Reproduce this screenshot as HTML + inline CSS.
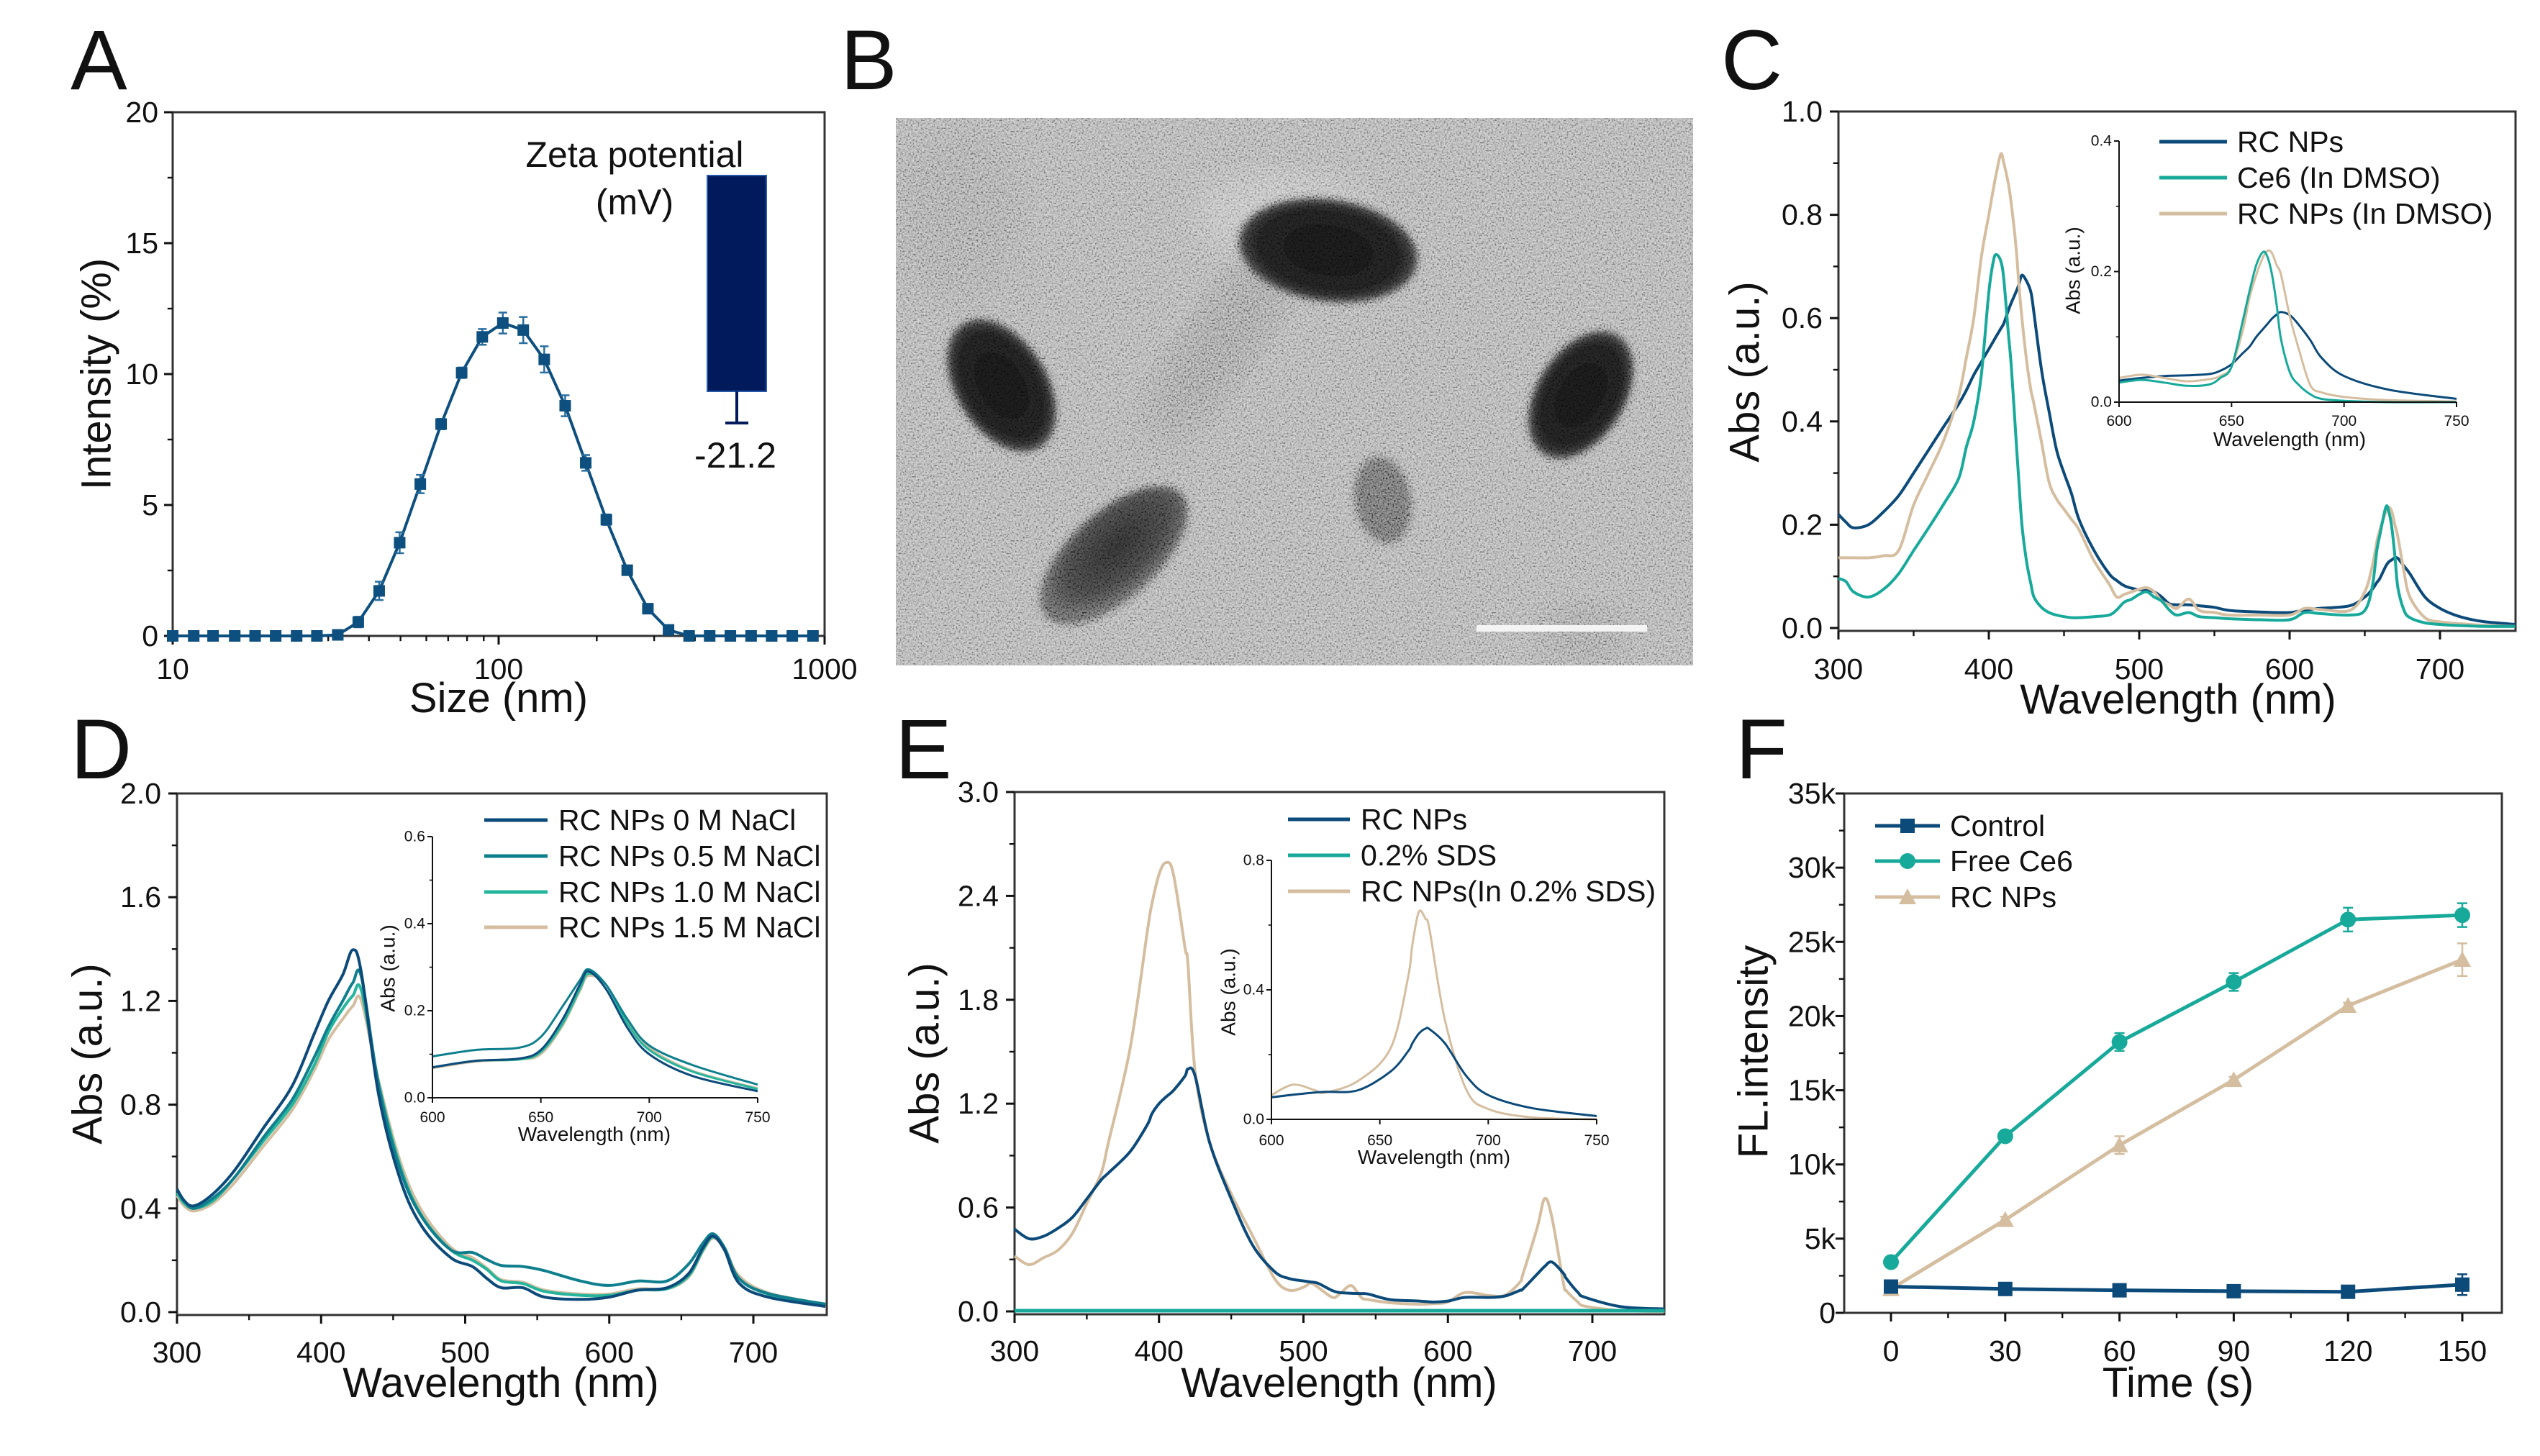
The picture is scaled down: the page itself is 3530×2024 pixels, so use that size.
<!DOCTYPE html>
<html><head><meta charset="utf-8">
<style>
html,body{margin:0;padding:0;background:#fff;}
svg{display:block;}
text{font-family:"Liberation Sans",Arial,sans-serif;fill:#111;}
</style></head>
<body>
<svg id="fig" width="3530" height="2024" viewBox="0 0 3530 2024" xmlns="http://www.w3.org/2000/svg">
<defs>
<filter id="noise" x="0" y="0" width="100%" height="100%">
<feTurbulence type="fractalNoise" baseFrequency="0.45" numOctaves="2" seed="4" result="t"/>
<feColorMatrix type="matrix" values="1.3 1.3 1.3 0 -1.45  1.3 1.3 1.3 0 -1.45  1.3 1.3 1.3 0 -1.45  0 0 0 0 1"/>
</filter>
<filter id="blur6"><feGaussianBlur stdDeviation="5"/></filter>
<filter id="blur25"><feGaussianBlur stdDeviation="25"/></filter>
<radialGradient id="pg" cx="50%" cy="50%" r="50%"><stop offset="0" stop-color="#121212"/><stop offset="0.8" stop-color="#1e1e1e"/><stop offset="1" stop-color="#404040"/></radialGradient>
<radialGradient id="pg2" cx="55%" cy="45%" r="50%"><stop offset="0" stop-color="#2a2a2a"/><stop offset="0.7" stop-color="#404040"/><stop offset="1" stop-color="#606060"/></radialGradient>
</defs>
<g id="root"></g>
</svg>
<script>
// ---------- DATA ----------
// Panel A (DLS)
const aSizes = [10,11.6,13.3,15.5,17.9,20.7,24.0,27.7,32.1,37.1,43.0,49.7,57.5,66.6,77.0,89.1,103,119,138,160,185,214,248,287,332,384,444,514,595,688,796,921];
const aIntensity = [0,0,0,0,0,0,0,0,0.04,0.53,1.72,3.56,5.8,8.09,10.05,11.42,11.95,11.68,10.56,8.79,6.61,4.44,2.51,1.04,0.23,0,0,0,0,0,0,0];
const aErr = [0,0,0,0,0,0,0,0,0.05,0.2,0.35,0.4,0.35,0.2,0.2,0.3,0.4,0.5,0.5,0.4,0.3,0.2,0.15,0.15,0.1,0,0,0,0,0,0,0];
const zetaValue = [-21.2];
const aYTicks = [0,5,10,15,20];
const aXTicks = [10,100,1000];

// Panel C main
const cWl = [300,305,310,320,330,340,350,360,370,380,385,390,395,400,403,405,408,410,413,415,418,420,422,425,428,430,435,440,445,450,455,460,470,480,485,490,495,500,505,510,515,520,525,533,540,550,560,580,600,610,620,640,650,655,658,660,664,666,668,670,672,676,680,690,700,710,720,730,750];
const cRC = [0.22,0.205,0.194,0.2,0.225,0.256,0.3,0.345,0.39,0.434,0.46,0.49,0.515,0.54,0.555,0.565,0.58,0.59,0.615,0.63,0.65,0.665,0.683,0.672,0.65,0.61,0.5,0.42,0.345,0.3,0.26,0.21,0.15,0.105,0.092,0.082,0.077,0.074,0.073,0.07,0.06,0.047,0.045,0.045,0.043,0.04,0.034,0.031,0.03,0.035,0.038,0.043,0.06,0.075,0.088,0.096,0.12,0.128,0.132,0.136,0.135,0.12,0.105,0.06,0.038,0.025,0.017,0.012,0.007];
const cCe6 = [0.096,0.09,0.07,0.06,0.075,0.105,0.15,0.194,0.24,0.29,0.35,0.4,0.49,0.65,0.71,0.723,0.71,0.674,0.57,0.505,0.37,0.283,0.2,0.13,0.085,0.06,0.04,0.03,0.025,0.022,0.02,0.02,0.022,0.025,0.035,0.05,0.056,0.065,0.07,0.06,0.052,0.035,0.025,0.03,0.022,0.02,0.018,0.016,0.016,0.03,0.028,0.025,0.034,0.08,0.15,0.18,0.234,0.225,0.194,0.14,0.078,0.035,0.02,0.01,0.007,0.005,0.004,0.003,0.003];
const cDMSO = [0.136,0.136,0.136,0.136,0.14,0.15,0.238,0.3,0.363,0.45,0.523,0.6,0.718,0.8,0.85,0.88,0.918,0.9,0.86,0.82,0.74,0.665,0.6,0.52,0.46,0.434,0.36,0.283,0.25,0.23,0.21,0.19,0.13,0.085,0.06,0.065,0.07,0.075,0.078,0.07,0.052,0.045,0.038,0.056,0.034,0.03,0.025,0.025,0.025,0.038,0.036,0.034,0.07,0.12,0.167,0.19,0.225,0.234,0.225,0.2,0.176,0.11,0.06,0.02,0.012,0.009,0.007,0.005,0.003];
const cInWl = [600,610,620,630,640,645,650,655,658,661,664,666,668,670,672,676,680,685,690,700,720,750];
const cInRC = [0.033,0.037,0.04,0.041,0.043,0.048,0.058,0.075,0.085,0.1,0.112,0.12,0.128,0.134,0.138,0.133,0.118,0.095,0.068,0.04,0.019,0.005];
const cInCe6 = [0.03,0.034,0.03,0.025,0.027,0.037,0.054,0.125,0.17,0.21,0.23,0.222,0.195,0.15,0.096,0.045,0.026,0.012,0.005,0.002,0,0];
const cInDMSO = [0.037,0.042,0.037,0.032,0.035,0.04,0.054,0.11,0.16,0.195,0.222,0.232,0.228,0.21,0.195,0.13,0.08,0.026,0.015,0.008,0.003,0.001];

// Panel D
const dWl = [300,305,312,325,340,360,380,395,405,415,422,428,440,455,470,490,505,515,525,540,555,580,600,620,640,655,665,672,680,690,710,750];
const d0M = [0.474,0.429,0.41,0.456,0.547,0.71,0.873,1.07,1.2,1.3,1.397,1.307,0.836,0.51,0.33,0.21,0.176,0.13,0.094,0.094,0.058,0.049,0.058,0.085,0.094,0.148,0.248,0.293,0.239,0.112,0.058,0.022];
const d05M = [0.474,0.43,0.4,0.44,0.52,0.674,0.82,0.98,1.1,1.2,1.27,1.292,0.872,0.547,0.366,0.24,0.23,0.203,0.18,0.176,0.16,0.12,0.103,0.12,0.12,0.185,0.266,0.302,0.248,0.13,0.072,0.031];
const d10M = [0.46,0.42,0.4,0.43,0.52,0.66,0.8,0.95,1.08,1.17,1.22,1.24,0.88,0.56,0.37,0.24,0.2,0.165,0.12,0.11,0.08,0.065,0.065,0.085,0.09,0.14,0.24,0.29,0.245,0.13,0.07,0.025];
const d15M = [0.45,0.41,0.39,0.42,0.5,0.64,0.78,0.93,1.05,1.13,1.18,1.2,0.89,0.58,0.39,0.25,0.21,0.17,0.125,0.115,0.085,0.07,0.07,0.09,0.09,0.135,0.235,0.285,0.245,0.14,0.075,0.03];
const dInWl = [600,620,640,650,660,668,672,680,690,700,720,750];
const dIn0M = [0.07,0.085,0.09,0.11,0.18,0.26,0.29,0.25,0.16,0.1,0.05,0.015];
const dIn05M = [0.095,0.11,0.115,0.14,0.21,0.27,0.295,0.26,0.18,0.12,0.075,0.03];
const dIn10M = [0.07,0.085,0.088,0.105,0.17,0.25,0.285,0.26,0.17,0.11,0.06,0.02];
const dIn15M = [0.068,0.083,0.088,0.1,0.165,0.245,0.28,0.26,0.175,0.115,0.062,0.022];

// Panel E
const eWl = [300,310,320,330,340,350,360,365,380,392,395,400,405,410,418,420,425,435,450,465,480,490,500,505,510,520,525,533,540,545,560,580,590,600,612,630,640,650,652,662,667,672,680,682,690,695,720,750];
const eRC = [0.475,0.42,0.434,0.48,0.543,0.65,0.76,0.8,0.923,1.08,1.14,1.2,1.24,1.276,1.36,1.4,1.36,0.977,0.65,0.38,0.23,0.19,0.176,0.17,0.163,0.12,0.109,0.105,0.103,0.1,0.068,0.06,0.054,0.06,0.081,0.081,0.09,0.122,0.13,0.217,0.26,0.285,0.22,0.19,0.11,0.081,0.027,0.014];
const eSDS = [0.004,0.004,0.004,0.004,0.004,0.004,0.004,0.004,0.004,0.004,0.004,0.004,0.004,0.004,0.004,0.004,0.004,0.004,0.004,0.004,0.004,0.004,0.004,0.004,0.004,0.004,0.004,0.004,0.004,0.004,0.004,0.004,0.004,0.004,0.004,0.004,0.004,0.004,0.004,0.004,0.004,0.004,0.004,0.004,0.004,0.004,0.004,0.004];
const eInSDS = [0.32,0.27,0.31,0.353,0.45,0.624,0.8,0.977,1.52,2.2,2.35,2.525,2.593,2.525,2.1,2.01,1.385,0.977,0.679,0.434,0.19,0.122,0.14,0.163,0.14,0.081,0.1,0.149,0.08,0.068,0.05,0.041,0.045,0.054,0.109,0.09,0.095,0.17,0.217,0.489,0.652,0.543,0.163,0.12,0.054,0.03,0.005,0];
const eInWl = [600,610,620,625,640,655,663,665,668,671,673,680,690,700,720,750];
const eInRC = [0.068,0.076,0.083,0.085,0.09,0.148,0.21,0.235,0.265,0.28,0.278,0.235,0.133,0.075,0.035,0.01];
const eInTan = [0.075,0.107,0.09,0.083,0.119,0.22,0.438,0.54,0.641,0.62,0.583,0.307,0.09,0.032,0.006,0];

// Panel F
const fTime = [0,30,60,90,120,150];
const fControl = [1.77,1.61,1.52,1.46,1.42,1.9];
const fControlErr = [0.15,0.1,0.1,0.1,0.1,0.7];
const fCe6 = [3.42,11.9,18.25,22.3,26.5,26.8];
const fCe6Err = [0.2,0.25,0.6,0.6,0.8,0.8];
const fRC = [1.61,6.27,11.3,15.7,20.7,23.8];
const fRCErr = [0.1,0.2,0.6,0.2,0.2,1.1];

// ---------- HELPERS ----------
const NS = 'http://www.w3.org/2000/svg';
const root = document.getElementById('root');
const TFS = 41, TITLE = 58, LFS = 41, IFS = 21, ITFS = 28;
function mk(tag, attrs, parent){
  const e = document.createElementNS(NS, tag);
  for (const k in attrs) e.setAttribute(k, attrs[k]);
  (parent || root).appendChild(e);
  return e;
}
function txt(str, attrs, parent){
  const t = mk('text', attrs, parent);
  t.textContent = str;
  return t;
}
function lin(d0,d1,r0,r1){ return v => r0 + (v-d0)*(r1-r0)/(d1-d0); }
function smoothPath(pts){
  let d = 'M' + pts[0][0].toFixed(1) + ',' + pts[0][1].toFixed(1);
  for (let i=0;i<pts.length-1;i++){
    const p0 = pts[i-1]||pts[i], p1=pts[i], p2=pts[i+1], p3=pts[i+2]||pts[i+1];
    const c1x = p1[0]+(p2[0]-p0[0])/6, c1y = p1[1]+(p2[1]-p0[1])/6;
    const c2x = p2[0]-(p3[0]-p1[0])/6, c2y = p2[1]-(p3[1]-p1[1])/6;
    d += 'C'+c1x.toFixed(1)+','+c1y.toFixed(1)+' '+c2x.toFixed(1)+','+c2y.toFixed(1)+' '+p2[0].toFixed(1)+','+p2[1].toFixed(1);
  }
  return d;
}
function drawSeries(g, xs, ys, sx, sy, color, w, name){
  const pts = xs.map((x,i)=>[sx(x), sy(ys[i])]);
  const p = mk('path', {d: smoothPath(pts), fill:'none', stroke:color, 'stroke-width':w, 'stroke-linejoin':'round'}, g);
  
  
  return p;
}
function axes(o){
  const g = mk('g', {});
  
  
  const sx = o.sx, sy = o.sy;
  const sw = o.sw || 3;
  if (o.box){
    const r = mk('rect', {x:o.L, y:o.T, width:o.R-o.L, height:o.B-o.T, fill:'none', stroke:'#333', 'stroke-width':sw}, g);
    
    
  } else {
    const l1 = mk('line', {x1:o.L, y1:o.T, x2:o.L, y2:o.B, stroke:'#111', 'stroke-width':sw}, g);
    
    
    const l2 = mk('line', {x1:o.L, y1:o.B, x2:o.R, y2:o.B, stroke:'#111', 'stroke-width':sw}, g);
    
    
  }
  const tl = o.tl || 12;
  o.yMinor.forEach(v=>{ mk('line',{x1:o.L, x2:o.L-tl*0.6, y1:sy(v), y2:sy(v), stroke:'#111','stroke-width':sw*0.8}, g); });
  o.xMinor.forEach(v=>{ mk('line',{y1:o.B, y2:o.B+tl*0.6, x1:sx(v), x2:sx(v), stroke:'#111','stroke-width':sw*0.8}, g); });
  o.yTicks.forEach((v,i)=>{
    mk('line',{x1:o.L, x2:o.L-tl, y1:sy(v), y2:sy(v), stroke:'#111','stroke-width':sw}, g);
    const t = txt(o.yLabels[i], {x:o.L-o.yGap, y:sy(v), 'text-anchor':'end', 'dominant-baseline':'central', 'font-size':o.fs}, g);
    
    
  });
  o.xTicks.forEach((v,i)=>{
    mk('line',{y1:o.B, y2:o.B+tl, x1:sx(v), x2:sx(v), stroke:'#111','stroke-width':sw}, g);
    const t = txt(o.xLabels[i], {x:sx(v), y:o.xBase, 'text-anchor':'middle', 'font-size':o.fs}, g);
    
    
  });
  const xt = txt(o.xTitle, {x:o.xTitleX, y:o.xTitleY, 'text-anchor':'middle', 'font-size':o.tfs}, g);
  
  
  const yt = txt(o.yTitle, {x:0, y:0, 'text-anchor':'middle', 'dominant-baseline':'central', 'font-size':o.tfs, transform:'translate('+o.yTitleX+','+o.yTitleY+') rotate(-90)'}, g);
  
  
  return g;
}
function legend(g, items, x1, x2, tx, ys, fs, w){
  items.forEach((it,i)=>{
    const l = mk('line',{x1:x1,x2:x2,y1:ys[i],y2:ys[i],stroke:it.c,'stroke-width':w}, g);
    
    
    if (it.m) drawMarker(g, it.m, (x1+x2)/2, ys[i], it.c, 10);
    const t = txt(it.t, {x:tx, y:ys[i], 'dominant-baseline':'central', 'font-size':fs}, g);
    
    
  });
}
function drawMarker(g, m, x, y, c, s){
  let e;
  if (m==='sq') e = mk('rect',{x:x-s,y:y-s,width:2*s,height:2*s,fill:c}, g);
  else if (m==='ci') e = mk('circle',{cx:x,cy:y,r:s*1.1,fill:c}, g);
  else e = mk('polygon',{points:(x)+','+(y-s*1.2)+' '+(x-s*1.2)+','+(y+s)+' '+(x+s*1.2)+','+(y+s), fill:c}, g);
  
  
  return e;
}
function panelLabel(s, x, y){
  const t = txt(s, {x:x, y:y, 'font-size':118}, root);
  
  
}
const NAVY = '#0c4a7a', TEAL = '#17a99a', TAN = '#d5bea0', MIDT = '#0f7f8e';

// ---------- PANEL A ----------
(function(){
  const L=240,R=1146,T=156,B=884;
  const sx = v => L + (Math.log10(v)-1)*(R-L)/2;
  const sy = lin(0,20,B,T);
  const xMinor=[]; [10,100].forEach(d=>{for(let k=2;k<10;k++) xMinor.push(d*k);});
  axes({name:'panel-a-axes', L,R,T,B,sx,sy,box:true, yTicks:aYTicks, yLabels:aYTicks.map(String), yMinor:[2.5,7.5,12.5,17.5],
    xTicks:aXTicks, xLabels:aXTicks.map(String), xMinor, fs:TFS, tfs:TITLE, yGap:20, xBase:944,
    xTitle:'Size (nm)', xTitleX:693, xTitleY:990, yTitle:'Intensity (%)', yTitleX:134, yTitleY:520});
  const g = mk('g',{});
  
  
  const pts = aSizes.map((s,i)=>[sx(s), sy(aIntensity[i])]);
  const line = mk('polyline',{points:pts.map(p=>p.join(',')).join(' '), fill:'none', stroke:'#0d4f7e','stroke-width':4}, g);
  
  
  aSizes.forEach((s,i)=>{
    if (aErr[i]>0){
      const x=sx(s), y1=sy(aIntensity[i]+aErr[i]), y2=sy(aIntensity[i]-aErr[i]);
      const e = mk('path',{d:'M'+x+','+y1+'V'+y2+'M'+(x-6)+','+y1+'H'+(x+6)+'M'+(x-6)+','+y2+'H'+(x+6), stroke:'#2a6fa0','stroke-width':2.5, fill:'none'}, g);
      
      
    }
    drawMarker(g,'sq',sx(s),sy(aIntensity[i]),'#0d4f7e',8);
  });
  const zsy = lin(0,-21.2,244,544);
  const bar = mk('rect',{x:983, y:zsy(0), width:82, height:zsy(zetaValue[0])-zsy(0), fill:'#001a5c', stroke:'#2858a8','stroke-width':2}, root);
  
  
  const ye = zsy(zetaValue[0]) + 44;
  const eb = mk('path',{d:'M1024,'+zsy(zetaValue[0])+'V'+ye+'M1008,'+ye+'H1040', stroke:'#001a5c','stroke-width':4, fill:'none'}, root);
  
  
  const t1 = txt('Zeta potential',{x:882,y:232,'text-anchor':'middle','font-size':50}, root);
  
  
  const t2 = txt('(mV)',{x:882,y:298,'text-anchor':'middle','font-size':50}, root);
  
  
  const t3 = txt(String(zetaValue[0]),{x:1022,y:650,'text-anchor':'middle','font-size':50}, root);
  
  
})();

// ---------- PANEL B (TEM) ----------
(function(){
  const g = mk('g',{});
  
  
  const cp = mk('clipPath',{id:'temclip'}, g);
  mk('rect',{x:1245,y:164,width:1108,height:761}, cp);
  const inner = mk('g',{'clip-path':'url(#temclip)'}, g);
  mk('rect',{x:1245,y:164,width:1108,height:761,fill:'#a9a9a9'}, inner);
  mk('ellipse',{cx:1700,cy:470,rx:50,ry:170,fill:'#8c8c8c',opacity:0.6,filter:'url(#blur25)',transform:'rotate(35 1700 470)'}, inner);
  mk('ellipse',{cx:1780,cy:300,rx:120,ry:60,fill:'#c4c4c4',opacity:0.6,filter:'url(#blur25)'}, inner);
  mk('ellipse',{cx:2200,cy:880,rx:60,ry:40,fill:'#8a8a8a',opacity:0.5,filter:'url(#blur25)'}, inner);
  mk('ellipse',{cx:1330,cy:300,rx:90,ry:120,fill:'#999',opacity:0.5,filter:'url(#blur25)'}, inner);
  const parts = [
    {cx:1846,cy:348,rx:126,ry:72,rot:8,f:'url(#pg)',n:'particle-top'},
    {cx:1392,cy:536,rx:102,ry:64,rot:58,f:'url(#pg)',n:'particle-left'},
    {cx:2197,cy:549,rx:98,ry:62,rot:-58,f:'url(#pg)',n:'particle-right'},
    {cx:1548,cy:772,rx:128,ry:62,rot:-42,f:'url(#pg2)',n:'particle-bottom'},
    {cx:1922,cy:695,rx:40,ry:62,rot:-10,f:'#6a6a6a',n:'particle-faint'}
  ];
  parts.forEach(p=>{
    const e = mk('ellipse',{cx:p.cx,cy:p.cy,rx:p.rx,ry:p.ry,fill:p.f,filter:'url(#blur6)',transform:'rotate('+p.rot+' '+p.cx+' '+p.cy+')'}, inner);
    
    
  });
  const nz = mk('rect',{x:1245,y:164,width:1108,height:761,filter:'url(#noise)',opacity:0.55,style:'mix-blend-mode:overlay'}, inner);
  
  
  const sb = mk('rect',{x:2052,y:869,width:237,height:9,fill:'#f4f4f4'}, inner);
  
  
})();

// ---------- PANEL C ----------
(function(){
  const L=2555,R=3496,T=155,B=873;
  const sx = lin(300,700,L,3391), sy = lin(0,1,B,T);
  const yt=[0,0.2,0.4,0.6,0.8,1.0];
  axes({name:'panel-c-axes',L,R,T,B:B+4,sx,sy:v=>sy(v),box:true,yTicks:yt,yLabels:yt.map(v=>v.toFixed(1)),yMinor:[0.1,0.3,0.5,0.7,0.9],
    xTicks:[300,400,500,600,700],xLabels:['300','400','500','600','700'],xMinor:[350,450,550,650],fs:TFS,tfs:TITLE,yGap:22,xBase:944,
    xTitle:'Wavelength (nm)',xTitleX:3027,xTitleY:992,yTitle:'Abs (a.u.)',yTitleX:2425,yTitleY:517});
  const g = mk('g',{});
  
  
  drawSeries(g,cWl,cRC,sx,sy,NAVY,4,'rc-nps-line');
  drawSeries(g,cWl,cDMSO,sx,sy,TAN,4,'rc-nps-dmso-line');
  drawSeries(g,cWl,cCe6,sx,sy,TEAL,4,'ce6-dmso-line');
  const iL=2945,iR=3414,iT=196,iB=559;
  const isx=lin(600,750,iL,iR), isy=lin(0,0.4,iB,iT);
  axes({name:'panel-c-inset-axes',L:iL,R:iR,T:iT,B:iB,sx:isx,sy:isy,box:false,sw:2,tl:7,yTicks:[0,0.2,0.4],yLabels:['0.0','0.2','0.4'],yMinor:[0.1,0.3],
    xTicks:[600,650,700,750],xLabels:['600','650','700','750'],xMinor:[],fs:IFS,tfs:ITFS,yGap:10,xBase:592,
    xTitle:'Wavelength (nm)',xTitleX:3182,xTitleY:620,yTitle:'Abs (a.u.)',yTitleX:2881,yTitleY:376});
  drawSeries(g,cInWl,cInRC,isx,isy,NAVY,3,'inset-rc-nps-line');
  drawSeries(g,cInWl,cInDMSO,isx,isy,TAN,3,'inset-rc-nps-dmso-line');
  drawSeries(g,cInWl,cInCe6,isx,isy,TEAL,3,'inset-ce6-line');
  const lg = mk('g',{});
  
  
  legend(lg,[{t:'RC NPs',c:NAVY},{t:'Ce6 (In DMSO)',c:TEAL},{t:'RC NPs (In DMSO)',c:TAN}],3001,3095,3109,[197,247,297],LFS,5);
})();

// ---------- PANEL D ----------
(function(){
  const L=246,R=1149,T=1103,B=1824;
  const sx=lin(300,700,L,1047), sy=lin(0,2,B,T);
  const yt=[0,0.4,0.8,1.2,1.6,2.0];
  axes({name:'panel-d-axes',L,R,T,B:B+4,sx,sy,box:true,yTicks:yt,yLabels:yt.map(v=>v.toFixed(1)),yMinor:[0.2,0.6,1.0,1.4,1.8],
    xTicks:[300,400,500,600,700],xLabels:['300','400','500','600','700'],xMinor:[350,450,550,650],fs:TFS,tfs:TITLE,yGap:22,xBase:1894,
    xTitle:'Wavelength (nm)',xTitleX:696,xTitleY:1942,yTitle:'Abs (a.u.)',yTitleX:122,yTitleY:1465});
  const g = mk('g',{});
  
  
  drawSeries(g,dWl,d15M,sx,sy,TAN,4,'nacl-1-5m-line');
  drawSeries(g,dWl,d10M,sx,sy,'#25b59c',4,'nacl-1-0m-line');
  drawSeries(g,dWl,d05M,sx,sy,MIDT,4,'nacl-0-5m-line');
  drawSeries(g,dWl,d0M,sx,sy,NAVY,4,'nacl-0m-line');
  const iL=601,iR=1053,iT=1163,iB=1526;
  const isx=lin(600,750,iL,iR), isy=lin(0,0.6,iB,iT);
  axes({name:'panel-d-inset-axes',L:iL,R:iR,T:iT,B:iB,sx:isx,sy:isy,box:false,sw:2,tl:7,yTicks:[0,0.2,0.4,0.6],yLabels:['0.0','0.2','0.4','0.6'],yMinor:[0.1,0.3,0.5],
    xTicks:[600,650,700,750],xLabels:['600','650','700','750'],xMinor:[],fs:IFS,tfs:ITFS,yGap:10,xBase:1560,
    xTitle:'Wavelength (nm)',xTitleX:826,xTitleY:1586,yTitle:'Abs (a.u.)',yTitleX:539,yTitleY:1346});
  drawSeries(g,dInWl,dIn15M,isx,isy,TAN,3,'inset-1-5m-line');
  drawSeries(g,dInWl,dIn10M,isx,isy,'#25b59c',3,'inset-1-0m-line');
  drawSeries(g,dInWl,dIn05M,isx,isy,MIDT,3,'inset-0-5m-line');
  drawSeries(g,dInWl,dIn0M,isx,isy,NAVY,3,'inset-0m-line');
  const lg = mk('g',{});
  
  
  legend(lg,[{t:'RC NPs 0 M NaCl',c:NAVY},{t:'RC NPs 0.5 M NaCl',c:MIDT},{t:'RC NPs 1.0 M NaCl',c:'#25b59c'},{t:'RC NPs 1.5 M NaCl',c:TAN}],673,761,776,[1140,1190,1240,1289],LFS,5);
})();

// ---------- PANEL E ----------
(function(){
  const L=1410,R=2313,T=1101,B=1823;
  const sx=lin(300,700,L,2213), sy=lin(0,3,B,T);
  const yt=[0,0.6,1.2,1.8,2.4,3.0];
  axes({name:'panel-e-axes',L,R,T,B:B+4,sx,sy,box:true,yTicks:yt,yLabels:yt.map(v=>v.toFixed(1)),yMinor:[0.3,0.9,1.5,2.1,2.7],
    xTicks:[300,400,500,600,700],xLabels:['300','400','500','600','700'],xMinor:[350,450,550,650],fs:TFS,tfs:TITLE,yGap:22,xBase:1892,
    xTitle:'Wavelength (nm)',xTitleX:1861,xTitleY:1942,yTitle:'Abs (a.u.)',yTitleX:1285,yTitleY:1464});
  const g = mk('g',{});
  
  
  drawSeries(g,eWl,eInSDS,sx,sy,TAN,4,'rc-nps-in-sds-line');
  drawSeries(g,eWl,eRC,sx,sy,NAVY,4,'rc-nps-line');
  drawSeries(g,eWl,eSDS,sx,sy,TEAL,5,'sds-line');
  const iL=1767,iR=2219,iT=1196,iB=1556;
  const isx=lin(600,750,iL,iR), isy=lin(0,0.8,iB,iT);
  axes({name:'panel-e-inset-axes',L:iL,R:iR,T:iT,B:iB,sx:isx,sy:isy,box:false,sw:2,tl:7,yTicks:[0,0.4,0.8],yLabels:['0.0','0.4','0.8'],yMinor:[0.2,0.6],
    xTicks:[600,650,700,750],xLabels:['600','650','700','750'],xMinor:[],fs:IFS,tfs:ITFS,yGap:10,xBase:1592,
    xTitle:'Wavelength (nm)',xTitleX:1993,xTitleY:1618,yTitle:'Abs (a.u.)',yTitleX:1707,yTitleY:1379});
  drawSeries(g,eInWl,eInTan,isx,isy,TAN,3,'inset-rc-nps-sds-line');
  drawSeries(g,eInWl,eInRC,isx,isy,NAVY,3,'inset-rc-nps-line');
  const lg = mk('g',{});
  
  
  legend(lg,[{t:'RC NPs',c:NAVY},{t:'0.2% SDS',c:TEAL},{t:'RC NPs(In 0.2% SDS)',c:TAN}],1790,1876,1891,[1139,1189,1239],LFS,5);
})();

// ---------- PANEL F ----------
(function(){
  const L=2563,R=3477,T=1103,B=1825;
  const sx=lin(0,150,2628,3422), sy=lin(0,35,B,T);
  const yt=[0,5,10,15,20,25,30,35];
  axes({name:'panel-f-axes',L,R,T,B,sx,sy,box:true,yTicks:yt,yLabels:yt.map(v=>v===0?'0':v+'k'),yMinor:[2.5,7.5,12.5,17.5,22.5,27.5,32.5],
    xTicks:fTime,xLabels:fTime.map(String),xMinor:[15,45,75,105,135],fs:TFS,tfs:TITLE,yGap:12,xBase:1892,
    xTitle:'Time (s)',xTitleX:3027,xTitleY:1942,yTitle:'FL.intensity',yTitleX:2437,yTitleY:1462});
  const series = [
    {v:fRC,e:fRCErr,c:TAN,m:'tr',n:'rc-nps'},
    {v:fCe6,e:fCe6Err,c:TEAL,m:'ci',n:'free-ce6'},
    {v:fControl,e:fControlErr,c:NAVY,m:'sq',n:'control'}
  ];
  series.forEach(s=>{
    const g = mk('g',{});
    
    
    const pl = mk('polyline',{points:fTime.map((t,i)=>sx(t)+','+sy(s.v[i])).join(' '),fill:'none',stroke:s.c,'stroke-width':5}, g);
    
    
    fTime.forEach((t,i)=>{
      const x=sx(t), y1=sy(s.v[i]+s.e[i]), y2=sy(s.v[i]-s.e[i]);
      const eb = mk('path',{d:'M'+x+','+y1+'V'+y2+'M'+(x-7)+','+y1+'H'+(x+7)+'M'+(x-7)+','+y2+'H'+(x+7),stroke:s.c,'stroke-width':2.5,fill:'none'}, g);
      
      
      drawMarker(g,s.m,x,sy(s.v[i]),s.c,10);
    });
  });
  const lg = mk('g',{});
  
  
  legend(lg,[{t:'Control',c:NAVY,m:'sq'},{t:'Free Ce6',c:TEAL,m:'ci'},{t:'RC NPs',c:TAN,m:'tr'}],2606,2696,2710,[1148,1197,1247],LFS,5);
})();

panelLabel('A',98,124);
panelLabel('B',1168,124);
panelLabel('C',2392,124);
panelLabel('D',98,1082);
panelLabel('E',1244,1082);
panelLabel('F',2412,1082);
</script>
</body></html>
